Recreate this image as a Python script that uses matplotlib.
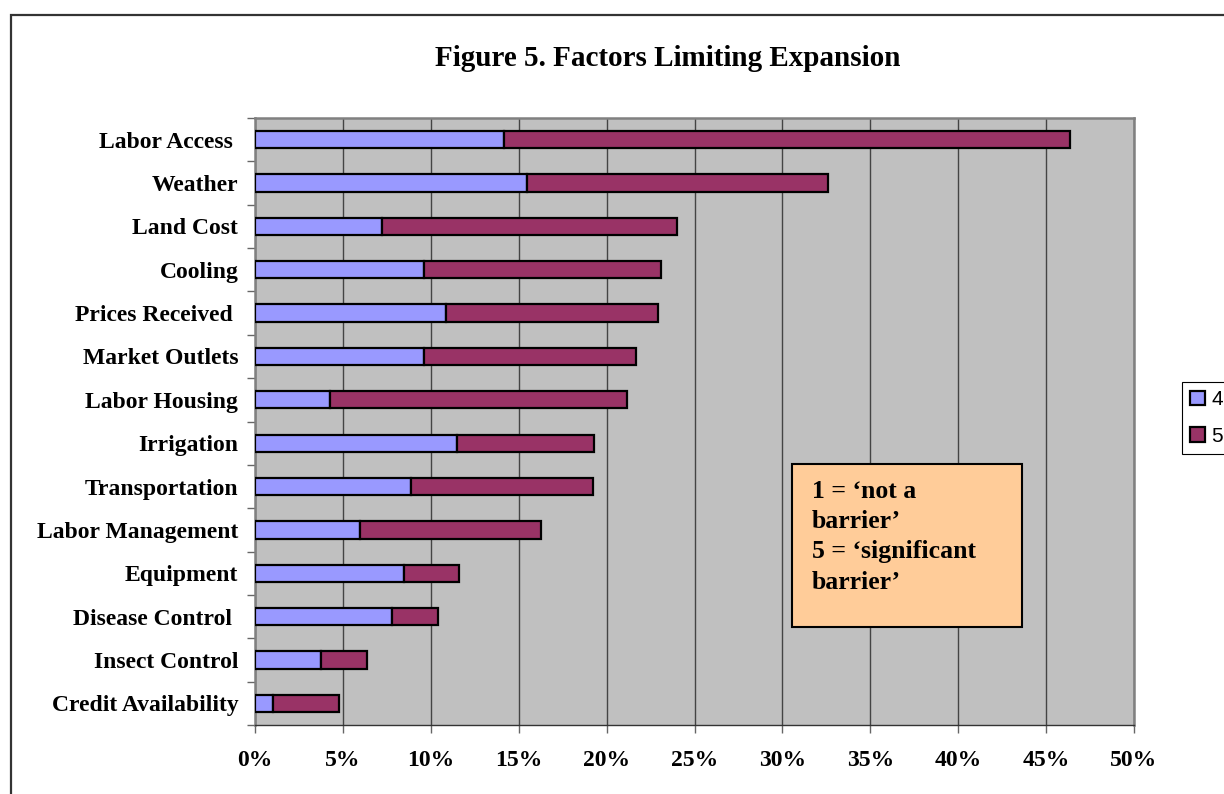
import matplotlib
matplotlib.use("Agg")
import matplotlib.pyplot as plt
import matplotlib.patches as patches
from matplotlib.ticker import FixedLocator, PercentFormatter

# Share of growers rating each factor 4 or 5 (percent)
factors = ["Labor Access ", "Weather", "Land Cost", "Cooling", "Prices Received ",
           "Market Outlets", "Labor Housing", "Irrigation", "Transportation",
           "Labor Management", "Equipment", "Disease Control ", "Insect Control",
           "Credit Availability"]
rating_4 = [14.15, 15.5, 7.2, 9.6, 10.85, 9.6, 4.25, 11.5, 8.9, 6.0, 8.5, 7.8, 3.75, 1.0]
rating_5 = [32.2, 17.1, 16.8, 13.5, 12.1, 12.1, 16.9, 7.8, 10.3, 10.25, 3.1, 2.6, 2.6, 3.8]
series_names = ["4", "5"]
x_ticks = [0, 5, 10, 15, 20, 25, 30, 35, 40, 45, 50]

serif = "Liberation Serif"
W, H = 1224, 794
fig = plt.figure(figsize=(W / 100, H / 100), dpi=100)

# outer chart frame (runs off the right and bottom edges)
fig.patches.append(patches.Rectangle((11 / W, -0.05), 1.2, 1 - 15 / H + 0.05,
                                     transform=fig.transFigure, fill=False,
                                     edgecolor="#333333", linewidth=1.6))

ax = fig.add_axes([255 / W, 1 - 725 / H, 879 / W, 607 / H])
ax.set_facecolor("#C0C0C0")

ypos = list(range(len(factors)))
b4 = ax.barh(ypos, rating_4, height=0.4, color="#9999FF", edgecolor="black",
             linewidth=1.6, zorder=3, label=series_names[0])
b5 = ax.barh(ypos, rating_5, left=rating_4, height=0.4, color="#993366",
             edgecolor="black", linewidth=1.6, zorder=3, label=series_names[1])

ax.set_xlim(0, 50)
ax.set_ylim(len(factors) - 0.5, -0.5)

ax.xaxis.set_major_locator(FixedLocator(x_ticks))
ax.xaxis.set_major_formatter(PercentFormatter(decimals=0))
ax.grid(axis="x", color="#444444", linewidth=1.0, zorder=1)
ax.tick_params(axis="x", direction="out", length=6, width=1, color="#666666",
               pad=12, labelsize=17)

ax.set_yticks(ypos)
ax.set_yticklabels(factors)
ax.yaxis.set_minor_locator(FixedLocator([i + 0.5 for i in range(-1, len(factors))]))
ax.tick_params(axis="y", which="major", length=0, pad=12, labelsize=17)
ax.tick_params(axis="y", which="minor", direction="out", length=6, width=1,
               color="#666666")

for lbl in ax.get_xticklabels() + ax.get_yticklabels():
    lbl.set_fontfamily(serif)
    lbl.set_fontweight("bold")

for side in ["top", "bottom", "left", "right"]:
    ax.spines[side].set_color("#808080")
    ax.spines[side].set_linewidth(1.8)
ax.spines["bottom"].set_color("#333333")
ax.spines["bottom"].set_linewidth(1.0)

fig.text(668 / W, 1 - 59 / H, "Figure 5. Factors Limiting Expansion",
         ha="center", va="center", fontsize=21, fontweight="bold",
         fontfamily=serif)

# rating scale note
fig.patches.append(patches.Rectangle((792 / W, 1 - 627 / H), 230 / W, 163 / H,
                                     transform=fig.transFigure, facecolor="#FFCC99",
                                     edgecolor="black", linewidth=1.5, zorder=5))
fig.text(812 / W, 1 - 480 / H,
         "1 = \u2018not a\nbarrier\u2019\n5 = \u2018significant\nbarrier\u2019",
         ha="left", va="top", fontsize=18.5, fontweight="bold", fontfamily=serif,
         linespacing=1.4, zorder=6)

leg = fig.legend(handles=[b4, b5], labels=series_names, loc="upper left",
                 bbox_to_anchor=(1182 / W, 1 - 382 / H), frameon=True,
                 fancybox=False, edgecolor="black", framealpha=1,
                 prop={"family": "Liberation Sans", "size": 15},
                 handlelength=0.7, handleheight=0.7, handletextpad=0.3,
                 borderpad=0.4, labelspacing=0.85, borderaxespad=0)
leg.get_frame().set_linewidth(0.8)

fig.savefig("out.png", dpi=100)
